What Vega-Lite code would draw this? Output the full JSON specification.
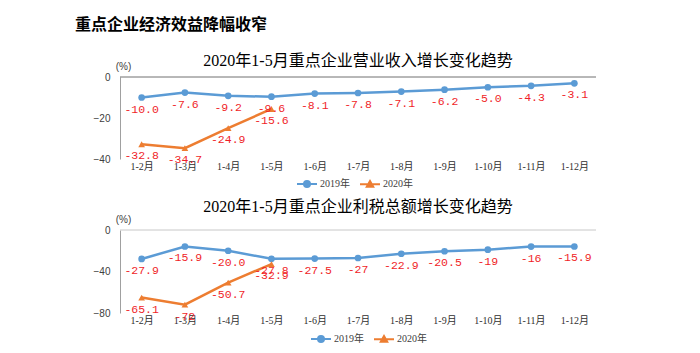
{
  "$schema": "https://vega.github.io/schema/vega-lite/v6.json",
  "padding": {"left": 75, "top": 17, "right": 5, "bottom": 5},
  "background": "#ffffff",
  "title": {"text": "重点企业经济效益降幅收窄", "anchor": "start", "fontSize": 16, "font": "Noto Sans CJK SC", "fontWeight": "bold", "color": "#000000", "offset": 20, "dx": -18},
  "config": {
    "view": {"stroke": null},
    "axisY": {"grid": false, "ticks": false, "domainColor": "#a0a0a0", "labelFont": "Liberation Sans", "labelFontSize": 10, "labelColor": "#404040", "labelPadding": 10, "labelOverlap": false, "titleAngle": 0, "titleFont": "Liberation Sans", "titleFontSize": 10, "titleFontWeight": "normal", "titleColor": "#404040", "titleX": 3, "titleY": -11, "titleAlign": "center", "titleBaseline": "middle"},
    "axisX": {"grid": false, "ticks": false, "domain": false, "labelFont": "Liberation Serif, Noto Sans CJK SC", "labelFontSize": 10, "labelColor": "#303030", "labelAngle": 0, "labelPadding": 2, "labelOverlap": false},
    "legend": {"orient": "none", "direction": "horizontal", "title": null, "labelFont": "Liberation Serif, Noto Sans CJK SC", "labelFontSize": 10, "labelColor": "#404040", "symbolSize": 400, "symbolStrokeWidth": 2, "columnPadding": 6, "labelOffset": 2, "padding": 0},
    "title": {"font": "Liberation Serif, Noto Sans CJK SC", "fontSize": 16, "fontWeight": "normal", "color": "#000000"}
  },
  "spacing": 8,
  "resolve": {"scale": {"color": "independent"}, "legend": {"color": "independent"}},
  "vconcat": [
    {
      "width": 476,
      "height": 82,
      "title": {"text": "2020年1-5月重点企业营业收入增长变化趋势", "offset": -8},
      "data": {"values": [
        {"period": "1-2月", "year": "2019年", "value": -10.0, "label": "-10.0"},
        {"period": "1-3月", "year": "2019年", "value": -7.6, "label": "-7.6"},
        {"period": "1-4月", "year": "2019年", "value": -9.2, "label": "-9.2"},
        {"period": "1-5月", "year": "2019年", "value": -9.6, "label": "-9.6"},
        {"period": "1-6月", "year": "2019年", "value": -8.1, "label": "-8.1"},
        {"period": "1-7月", "year": "2019年", "value": -7.8, "label": "-7.8"},
        {"period": "1-8月", "year": "2019年", "value": -7.1, "label": "-7.1"},
        {"period": "1-9月", "year": "2019年", "value": -6.2, "label": "-6.2"},
        {"period": "1-10月", "year": "2019年", "value": -5.0, "label": "-5.0"},
        {"period": "1-11月", "year": "2019年", "value": -4.3, "label": "-4.3"},
        {"period": "1-12月", "year": "2019年", "value": -3.1, "label": "-3.1"},
        {"period": "1-2月", "year": "2020年", "value": -32.8, "label": "-32.8"},
        {"period": "1-3月", "year": "2020年", "value": -34.7, "label": "-34.7"},
        {"period": "1-4月", "year": "2020年", "value": -24.9, "label": "-24.9"},
        {"period": "1-5月", "year": "2020年", "value": -15.6, "label": "-15.6"}
      ]},
      "layer": [
        {
          "data": {"values": [{"zero": 0}]},
          "mark": {"type": "rule", "color": "#707070", "strokeWidth": 1},
          "encoding": {"y": {"field": "zero", "type": "quantitative"}}
        },
        {
          "mark": {"type": "line", "strokeWidth": 2.5},
          "encoding": {
            "x": {"field": "period", "type": "ordinal", "sort": null, "scale": {"type": "point", "padding": 0.5}, "axis": {"title": null}},
            "y": {"field": "value", "type": "quantitative", "scale": {"domain": [-40, 0], "nice": false}, "axis": {"values": [-40, -30, -20, -10, 0], "title": "(%)"}},
            "color": {"field": "year", "type": "nominal", "scale": {"domain": ["2019年", "2020年"], "range": ["#5b9bd5", "#ed7d31"]},
              "legend": {"legendX": 176, "legendY": 96, "encode": {"symbols": {"update": {
                "shape": {"signal": "datum.value === '2019年' ? 'M-1,0H1M-0.3,0A0.3,0.3 0 1,1 0.3,0A0.3,0.3 0 1,1 -0.3,0Z' : 'M-1,0H1M0,-0.32L0.32,0.24L-0.32,0.24Z'"},
                "fill": {"signal": "datum.value === '2019年' ? '#5b9bd5' : '#ed7d31'"},
                "stroke": {"signal": "datum.value === '2019年' ? '#5b9bd5' : '#ed7d31'"}}}}}}
          }
        },
        {
          "transform": [{"filter": "datum.year === '2019年'"}],
          "mark": {"type": "point", "filled": true, "size": 45, "opacity": 1, "shape": "circle", "color": "#5b9bd5"},
          "encoding": {
            "x": {"field": "period", "type": "ordinal", "sort": null},
            "y": {"field": "value", "type": "quantitative"}
          }
        },
        {
          "transform": [{"filter": "datum.year === '2020年'"}],
          "mark": {"type": "point", "filled": true, "size": 45, "opacity": 1, "shape": "triangle-up", "color": "#ed7d31"},
          "encoding": {
            "x": {"field": "period", "type": "ordinal", "sort": null},
            "y": {"field": "value", "type": "quantitative"}
          }
        },
        {
          "mark": {"type": "text", "font": "Liberation Mono", "fontSize": 11.5, "color": "#f01e28", "dy": 12, "baseline": "middle"},
          "encoding": {
            "x": {"field": "period", "type": "ordinal", "sort": null},
            "y": {"field": "value", "type": "quantitative"},
            "text": {"field": "label", "type": "nominal"}
          }
        }
      ]
    },
    {
      "width": 476,
      "height": 83,
      "title": {"text": "2020年1-5月重点企业利税总额增长变化趋势", "offset": -1},
      "data": {"values": [
        {"period": "1-2月", "year": "2019年", "value": -27.9, "label": "-27.9"},
        {"period": "1-3月", "year": "2019年", "value": -15.9, "label": "-15.9"},
        {"period": "1-4月", "year": "2019年", "value": -20.0, "label": "-20.0"},
        {"period": "1-5月", "year": "2019年", "value": -27.8, "label": "-27.8"},
        {"period": "1-6月", "year": "2019年", "value": -27.5, "label": "-27.5"},
        {"period": "1-7月", "year": "2019年", "value": -27, "label": "-27"},
        {"period": "1-8月", "year": "2019年", "value": -22.9, "label": "-22.9"},
        {"period": "1-9月", "year": "2019年", "value": -20.5, "label": "-20.5"},
        {"period": "1-10月", "year": "2019年", "value": -19, "label": "-19"},
        {"period": "1-11月", "year": "2019年", "value": -16, "label": "-16"},
        {"period": "1-12月", "year": "2019年", "value": -15.9, "label": "-15.9"},
        {"period": "1-2月", "year": "2020年", "value": -65.1, "label": "-65.1"},
        {"period": "1-3月", "year": "2020年", "value": -72, "label": "-72"},
        {"period": "1-4月", "year": "2020年", "value": -50.7, "label": "-50.7"},
        {"period": "1-5月", "year": "2020年", "value": -32.9, "label": "-32.9"}
      ]},
      "layer": [
        {
          "data": {"values": [{"zero": 0}]},
          "mark": {"type": "rule", "color": "#c8c8c8", "strokeWidth": 1},
          "encoding": {"y": {"field": "zero", "type": "quantitative"}}
        },
        {
          "mark": {"type": "line", "strokeWidth": 2.5},
          "encoding": {
            "x": {"field": "period", "type": "ordinal", "sort": null, "scale": {"type": "point", "padding": 0.5}, "axis": {"title": null}},
            "y": {"field": "value", "type": "quantitative", "scale": {"domain": [-80, 0], "nice": false}, "axis": {"values": [-80, -60, -40, -20, 0], "title": "(%)"}},
            "color": {"field": "year", "type": "nominal", "scale": {"domain": ["2019年", "2020年"], "range": ["#5b9bd5", "#ed7d31"]},
              "legend": {"legendX": 190, "legendY": 98, "encode": {"symbols": {"update": {
                "shape": {"signal": "datum.value === '2019年' ? 'M-1,0H1M-0.3,0A0.3,0.3 0 1,1 0.3,0A0.3,0.3 0 1,1 -0.3,0Z' : 'M-1,0H1M0,-0.32L0.32,0.24L-0.32,0.24Z'"},
                "fill": {"signal": "datum.value === '2019年' ? '#5b9bd5' : '#ed7d31'"},
                "stroke": {"signal": "datum.value === '2019年' ? '#5b9bd5' : '#ed7d31'"}}}}}}
          }
        },
        {
          "transform": [{"filter": "datum.year === '2019年'"}],
          "mark": {"type": "point", "filled": true, "size": 45, "opacity": 1, "shape": "circle", "color": "#5b9bd5"},
          "encoding": {
            "x": {"field": "period", "type": "ordinal", "sort": null},
            "y": {"field": "value", "type": "quantitative"}
          }
        },
        {
          "transform": [{"filter": "datum.year === '2020年'"}],
          "mark": {"type": "point", "filled": true, "size": 45, "opacity": 1, "shape": "triangle-up", "color": "#ed7d31"},
          "encoding": {
            "x": {"field": "period", "type": "ordinal", "sort": null},
            "y": {"field": "value", "type": "quantitative"}
          }
        },
        {
          "mark": {"type": "text", "font": "Liberation Mono", "fontSize": 11.5, "color": "#f01e28", "dy": 12, "baseline": "middle"},
          "encoding": {
            "x": {"field": "period", "type": "ordinal", "sort": null},
            "y": {"field": "value", "type": "quantitative"},
            "text": {"field": "label", "type": "nominal"}
          }
        }
      ]
    }
  ]
}
